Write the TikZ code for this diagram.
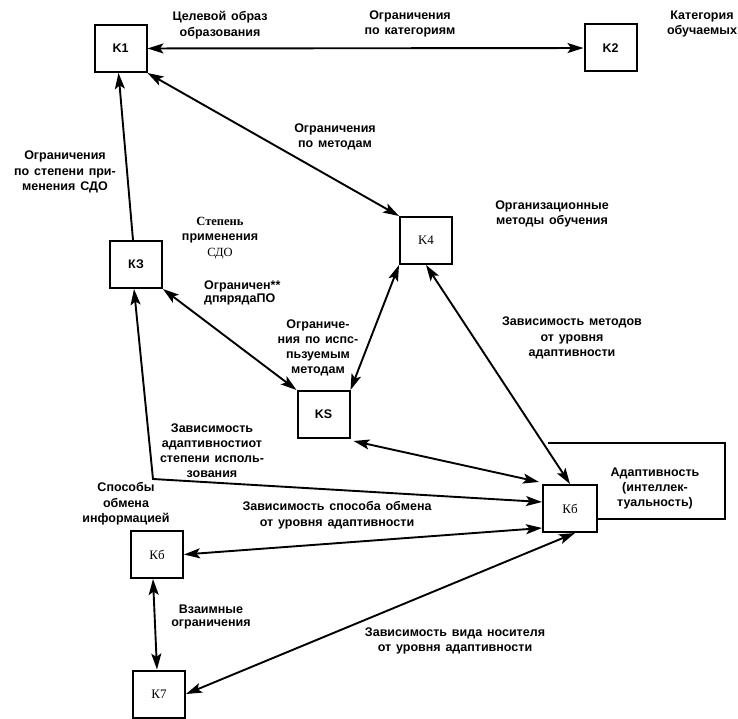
\documentclass[tikz,border=0pt]{standalone}
\usepackage{fontspec}
\setmainfont{Liberation Sans}[WordSpace={1.4,0.5,0.3}]
\newfontfamily\serifrm{Liberation Serif}
\usetikzlibrary{arrows.meta}
\begin{document}
\begin{tikzpicture}[x=1pt,y=-1pt,
  box/.style={draw,line width=2pt,minimum width=52pt,minimum height=47pt,inner sep=0pt,font=\bfseries\fontsize{12.5}{14}\selectfont},
  sbox/.style={box,font=\serifrm\fontsize{13}{14}\selectfont},
  lbl/.style={align=center,font=\bfseries\fontsize{12.5}{15.5}\selectfont,inner sep=0pt},
  tip/.tip={Stealth[length=16pt,width=10pt,inset=3.5pt]},
  con/.style={line width=1.9pt,tip-tip},
  one/.style={line width=1.9pt,-tip},
  loop/.style={line width=2pt}
]
\useasboundingbox[fill=white] (0,0) rectangle (738,719);

% boxes
\node[box]  (K1)  at (120.5,48.5) {K1};
\node[box]  (K2)  at (610.5,48)   {K2};
\node[box]  (K3)  at (136,264.5)  {КЗ};
\node[sbox] (K4)  at (426,240.5)  {K4};
\node[box]  (KS)  at (323.5,414.5){KS};
\node[sbox,minimum width=54pt] (K6r) at (570,508.5) {Кб};
\node[sbox] (K6l) at (157,554.5)  {Кб};
\node[sbox] (K7)  at (159,694)    {К7};

% labels
\node[lbl] (L1)  at (220,25)  {Целевой образ\\образования};
\node[lbl] (L2)  at (410,24)  {Ограничения\\по категориям};
\node[lbl] (L3)  at (702,24)  {Категория\\обучаемых};
\node[lbl] (L4)  at (335,137) {Ограничения\\по методам};
\node[lbl] (L5)  at (65,172)  {Ограничения\\по степени при-\\менения СДО};
\node[lbl] (L6)  at (220,238) {{\serifrm\bfseries Степень}\\применения\\{\serifrm\mdseries СДО}};
\node[lbl,align=left,anchor=west,font=\bfseries\fontsize{12.5}{13.5}\selectfont] (L7) at (204,293) {Ограничен**\\дпярядаПО};
\node[lbl,font=\bfseries\fontsize{12.5}{15}\selectfont] (L8) at (318,348) {Ограниче-\\ния по испс-\\пьзуемым\\методам};
\node[lbl] (L9)  at (552,214) {Организационные\\методы обучения};
\node[lbl] (L10) at (572,338) {Зависимость методов\\от уровня\\адаптивности};
\node[lbl,font=\bfseries\fontsize{12.5}{15}\selectfont] (L11) at (655,488) {Адаптивность\\(интеллек-\\туальность)};
\node[lbl,font=\bfseries\fontsize{12.5}{15}\selectfont] (L12) at (212,451) {Зависимость\\адаптивностиот\\степени исполь-\\зования};
\node[lbl] (L13) at (126,504) {Способы\\обмена\\информацией};
\node[lbl] (L14) at (337,515) {Зависимость способа обмена\\от уровня адаптивности};
\node[lbl,font=\bfseries\fontsize{12.5}{13.5}\selectfont] (L15) at (211,617) {Взаимные\\ограничения};
\node[lbl] (L16) at (455,641) {Зависимость вида носителя\\от уровня адаптивности};

% connectors
\coordinate (bend) at (153,479);
\coordinate (lr) at (725,519);
\coordinate (ur) at (725,443);
\coordinate (ul) at (548,443);

\draw[con] (K1) -- (K2);
\draw[con] (K1.south east) -- (K4.north west);
\draw[one] ([xshift=-3pt]K3.north) -- ([xshift=-2pt]K1.south);
\draw[con] (K3.south east) -- (KS.north west);
\draw[con] (K4.south west) -- (KS.north east);
\draw[con] (K4.south) -- (K6r.north);
\draw[con] ([xshift=3pt,yshift=-2pt]KS.south east) -- ([xshift=-3pt,yshift=2pt]K6r.north west);
\draw[con] ([xshift=-2pt]K3.south) -- (bend) -- ([yshift=6.5pt]K6r.west);
\draw[con] (K6l.east) -- ([yshift=5pt]K6r.south west);
\draw[con] (K7.east) -- ([xshift=5pt]K6r.south);
\draw[con] ([xshift=-4pt]K6l.south) -- ([xshift=-2pt]K7.north);
\draw[loop] ([yshift=-10.5pt]K6r.east) -- (lr) -- (ur) -- (ul);
\end{tikzpicture}
\end{document}
